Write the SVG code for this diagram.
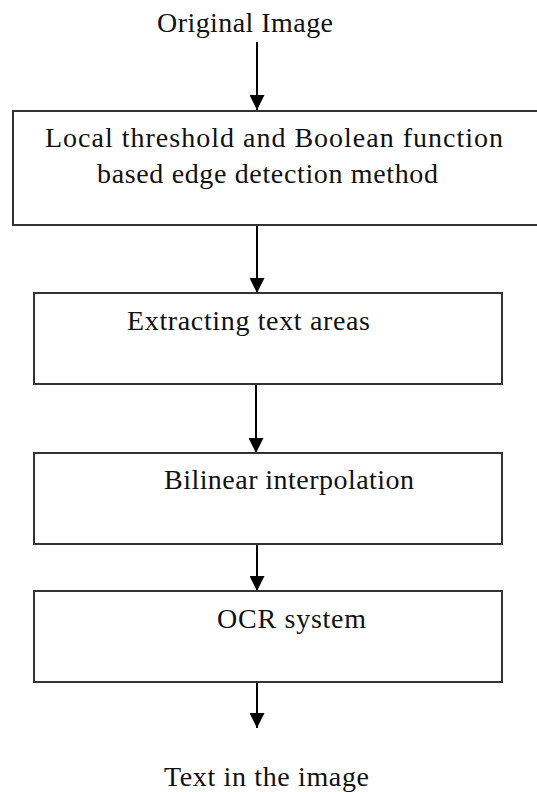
<svg xmlns="http://www.w3.org/2000/svg" width="537" height="792" viewBox="0 0 537 792">
<style>
.box{fill:#fff;stroke:#333;stroke-width:2}
.lbl{font-family:"Liberation Serif","Times New Roman",serif;font-size:28px;fill:#111}
.con{stroke:#000;stroke-width:2;fill:none;marker-end:url(#arr)}
</style>
<defs>
<marker id="arr" markerUnits="userSpaceOnUse" markerWidth="15" markerHeight="15" viewBox="0 0 15 15" refX="15" refY="7.5" orient="auto">
<path d="M0,0 L15,7.5 L0,15 Z" fill="#000"/>
</marker>
</defs>
<rect width="537" height="792" fill="#fff"/>
<g id="connectors">
<line class="con" x1="257" y1="42" x2="257" y2="110"/>
<line class="con" x1="257" y1="225" x2="257" y2="293"/>
<line class="con" x1="256" y1="384" x2="256" y2="453"/>
<line class="con" x1="257" y1="544" x2="257" y2="591"/>
<line class="con" x1="257" y1="682" x2="257" y2="728"/>
</g>
<g id="start">
<text class="lbl" x="157" y="32" textLength="176" lengthAdjust="spacing">Original Image</text>
</g>
<g id="edge-detection">
<rect class="box" x="13" y="111" width="530" height="114"/>
<text class="lbl" x="45" y="147" textLength="458" lengthAdjust="spacing">Local threshold and Boolean function</text>
<text class="lbl" x="97" y="183" textLength="341" lengthAdjust="spacing">based edge detection method</text>
</g>
<g id="extract">
<rect class="box" x="34" y="293" width="468" height="91"/>
<text class="lbl" x="127" y="330" textLength="243" lengthAdjust="spacing">Extracting text areas</text>
</g>
<g id="bilinear">
<rect class="box" x="34" y="453" width="468" height="91"/>
<text class="lbl" x="164" y="489" textLength="250" lengthAdjust="spacing">Bilinear interpolation</text>
</g>
<g id="ocr">
<rect class="box" x="34" y="591" width="468" height="91"/>
<text class="lbl" x="217" y="628" textLength="149" lengthAdjust="spacing">OCR system</text>
</g>
<g id="end">
<text class="lbl" x="164" y="786" textLength="205" lengthAdjust="spacing">Text in the image</text>
</g>
</svg>
